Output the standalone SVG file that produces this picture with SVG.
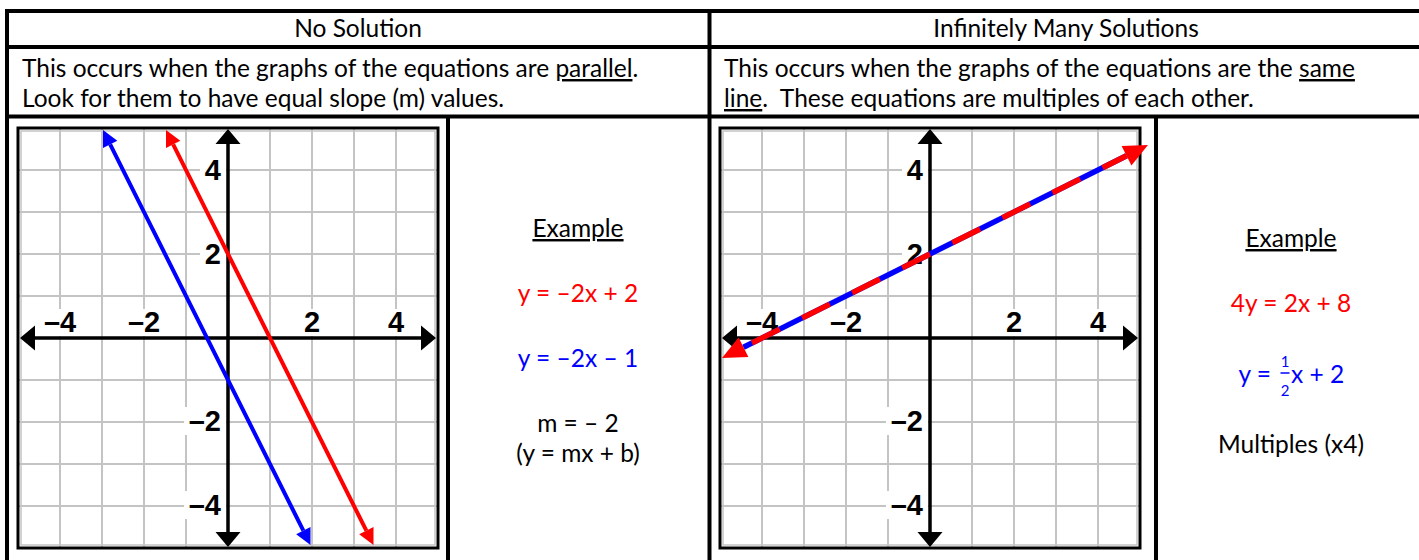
<svg xmlns="http://www.w3.org/2000/svg" xmlns:xlink="http://www.w3.org/1999/xlink" width="1419" height="560" viewBox="0 0 1419 560">
<style>
.tbl{stroke:#000;stroke-width:4;fill:none}
.grid{stroke:#c4c4c4;stroke-width:2;fill:none}
.axis{stroke:#000;stroke-width:3.5;fill:none}
.lbl{font-family:"Liberation Sans",Arial,sans-serif;font-weight:bold;font-size:29px;fill:#000}
.txt{font-family:Lato,"Open Sans",sans-serif;font-size:24.5px;fill:#000}
.mid{text-anchor:middle}
.red{fill:#ff0000}
.blue{fill:#0000ff}
.box{fill:#fff}
</style>
<defs>
<marker id="arR" markerUnits="userSpaceOnUse" viewBox="0 -9 17 18" refX="0" refY="0" markerWidth="17" markerHeight="18" orient="auto-start-reverse" overflow="visible"><path d="M0,-8 L16,0 L0,8 Z" fill="#ff0000"/></marker>
<marker id="arB" markerUnits="userSpaceOnUse" viewBox="0 -9 17 18" refX="0" refY="0" markerWidth="17" markerHeight="18" orient="auto-start-reverse" overflow="visible"><path d="M0,-8 L16,0 L0,8 Z" fill="#0000ff"/></marker>
<marker id="arR2" markerUnits="userSpaceOnUse" viewBox="0 -12 25 24" refX="0" refY="0" markerWidth="25" markerHeight="24" orient="auto-start-reverse" overflow="visible"><path d="M0,-11 L24,0 L0,11 Z" fill="#ff0000"/></marker>
<g id="gridlines">
<rect x="-207" y="-207" width="414" height="414" fill="#fff" stroke="#c4c4c4" stroke-width="1.5"/>
<path class="grid" d="M-168 -210V210M-126 -210V210M-84 -210V210M-42 -210V210M42 -210V210M84 -210V210M126 -210V210M168 -210V210M-210 -168H210M-210 -126H210M-210 -84H210M-210 -42H210M-210 42H210M-210 84H210M-210 126H210M-210 168H210"/>
</g>
<g id="axes">
<rect x="-210" y="-210" width="420" height="420" fill="none" stroke="#000" stroke-width="3"/>
<path class="axis" d="M-195 0H195M0 -195V195"/>
<path d="M-208 0L-193 -12.5L-193 12.5Z M208 0L193 -12.5L193 12.5Z M0 -209L-12.5 -194L12.5 -194Z M0 209L-12.5 194L12.5 194Z" fill="#000"/>
</g>
</defs>

<g id="table">
<path class="tbl" d="M5 11H1419M5 47H1419M5 116.5H1419M7 9V560M709.5 9V560M448 116.5V560M1156 116.5V560"/>
</g>

<g id="header-left">
<text class="txt mid" x="358" y="37">No Solution</text>
</g>
<g id="header-right">
<text class="txt mid" x="1066" y="37">Infinitely Many Solutions</text>
</g>

<g id="desc-left">
<text class="txt" x="22" y="77">This occurs when the graphs of the equations are <tspan text-decoration="underline">parallel</tspan>.</text>
<text class="txt" x="22" y="107">Look for them to have equal slope (m) values.</text>
</g>
<g id="desc-right">
<text class="txt" x="724" y="77">This occurs when the graphs of the equations are the <tspan text-decoration="underline">same</tspan></text>
<text class="txt" x="724" y="107" style="white-space:pre"><tspan text-decoration="underline">line</tspan>.  These equations are multiples of each other.</text>
</g>

<g id="graph1" transform="translate(228,338)">
<use xlink:href="#gridlines"/>
<g class="box">
<rect x="-188" y="-29" width="40" height="27"/>
<rect x="-104" y="-29" width="40" height="27"/>
<rect x="73" y="-29" width="22" height="27"/>
<rect x="157" y="-29" width="22" height="27"/>
<rect x="-28" y="-183" width="26" height="28"/>
<rect x="-28" y="-99" width="26" height="28"/>
<rect x="-44" y="69" width="42" height="28"/>
<rect x="-44" y="153" width="42" height="28"/>
</g>
<use xlink:href="#axes"/>
<text class="lbl mid" x="-168" y="-6">–4</text>
<text class="lbl mid" x="-84" y="-6">–2</text>
<text class="lbl mid" x="84" y="-6">2</text>
<text class="lbl mid" x="168" y="-6">4</text>
<text class="lbl" x="-7" y="-158" text-anchor="end">4</text>
<text class="lbl" x="-7" y="-74" text-anchor="end">2</text>
<text class="lbl" x="-7" y="93" text-anchor="end">–2</text>
<text class="lbl" x="-7" y="177" text-anchor="end">–4</text>
</g>

<g id="connectors">
<path d="M-117.84 -193.69L75.34 192.69" transform="translate(228,338)" stroke="#0000ff" stroke-width="4" fill="none" marker-start="url(#arB)" marker-end="url(#arB)"/>
<path d="M-54.84 -193.69L138.34 192.69" transform="translate(228,338)" stroke="#ff0000" stroke-width="4" fill="none" marker-start="url(#arR)" marker-end="url(#arR)"/>
</g>

<g id="example-left">
<text class="txt mid" x="578" y="237" text-decoration="underline">Example</text>
<text class="txt mid red" x="578" y="302">y = –2x + 2</text>
<text class="txt mid blue" x="578" y="367">y = –2x – 1</text>
<text class="txt mid" x="578" y="432">m = – 2</text>
<text class="txt mid" x="578" y="462">(y = mx + b)</text>
</g>

<g id="graph2" transform="translate(930,338)">
<use xlink:href="#gridlines"/>
<g class="box">
<rect x="-188" y="-29" width="40" height="27"/>
<rect x="-104" y="-29" width="40" height="27"/>
<rect x="73" y="-29" width="22" height="27"/>
<rect x="157" y="-29" width="22" height="27"/>
<rect x="-28" y="-183" width="26" height="28"/>
<rect x="-28" y="-99" width="26" height="28"/>
<rect x="-44" y="69" width="42" height="28"/>
<rect x="-44" y="153" width="42" height="28"/>
</g>
<use xlink:href="#axes"/>
<text class="lbl mid" x="-168" y="-6">–4</text>
<text class="lbl mid" x="-84" y="-6">–2</text>
<text class="lbl mid" x="84" y="-6">2</text>
<text class="lbl mid" x="168" y="-6">4</text>
<text class="lbl" x="-7" y="-158" text-anchor="end">4</text>
<text class="lbl" x="-7" y="-74" text-anchor="end">2</text>
<text class="lbl" x="-7" y="93" text-anchor="end">–2</text>
<text class="lbl" x="-7" y="177" text-anchor="end">–4</text>
</g>

<g id="connectors2" transform="translate(930,338)">
<path d="M-186.53 9.27L196.53 -182.27" stroke="#0000ff" stroke-width="5.5" fill="none"/>
<path d="M-186.53 9.27L196.53 -182.27" stroke="#ff0000" stroke-width="5.5" fill="none" stroke-dasharray="31 25" stroke-dashoffset="46.46" marker-start="url(#arR2)" marker-end="url(#arR2)"/>
</g>

<g id="example-right">
<text class="txt mid" x="1291" y="247" text-decoration="underline">Example</text>
<text class="txt mid red" x="1291" y="312">4y = 2x + 8</text>
<text class="txt blue" x="1271" y="383" text-anchor="end">y =</text>
<text class="txt blue" x="1285" y="366.5" text-anchor="middle" style="font-size:15px">1</text>
<path d="M1280.5 373H1289.5" stroke="#0000ff" stroke-width="1.5"/>
<text class="txt blue" x="1285" y="396" text-anchor="middle" style="font-size:15px">2</text>
<text class="txt blue" x="1291" y="383">x + 2</text>
<text class="txt mid" x="1291" y="453">Multiples (x4)</text>
</g>
</svg>
